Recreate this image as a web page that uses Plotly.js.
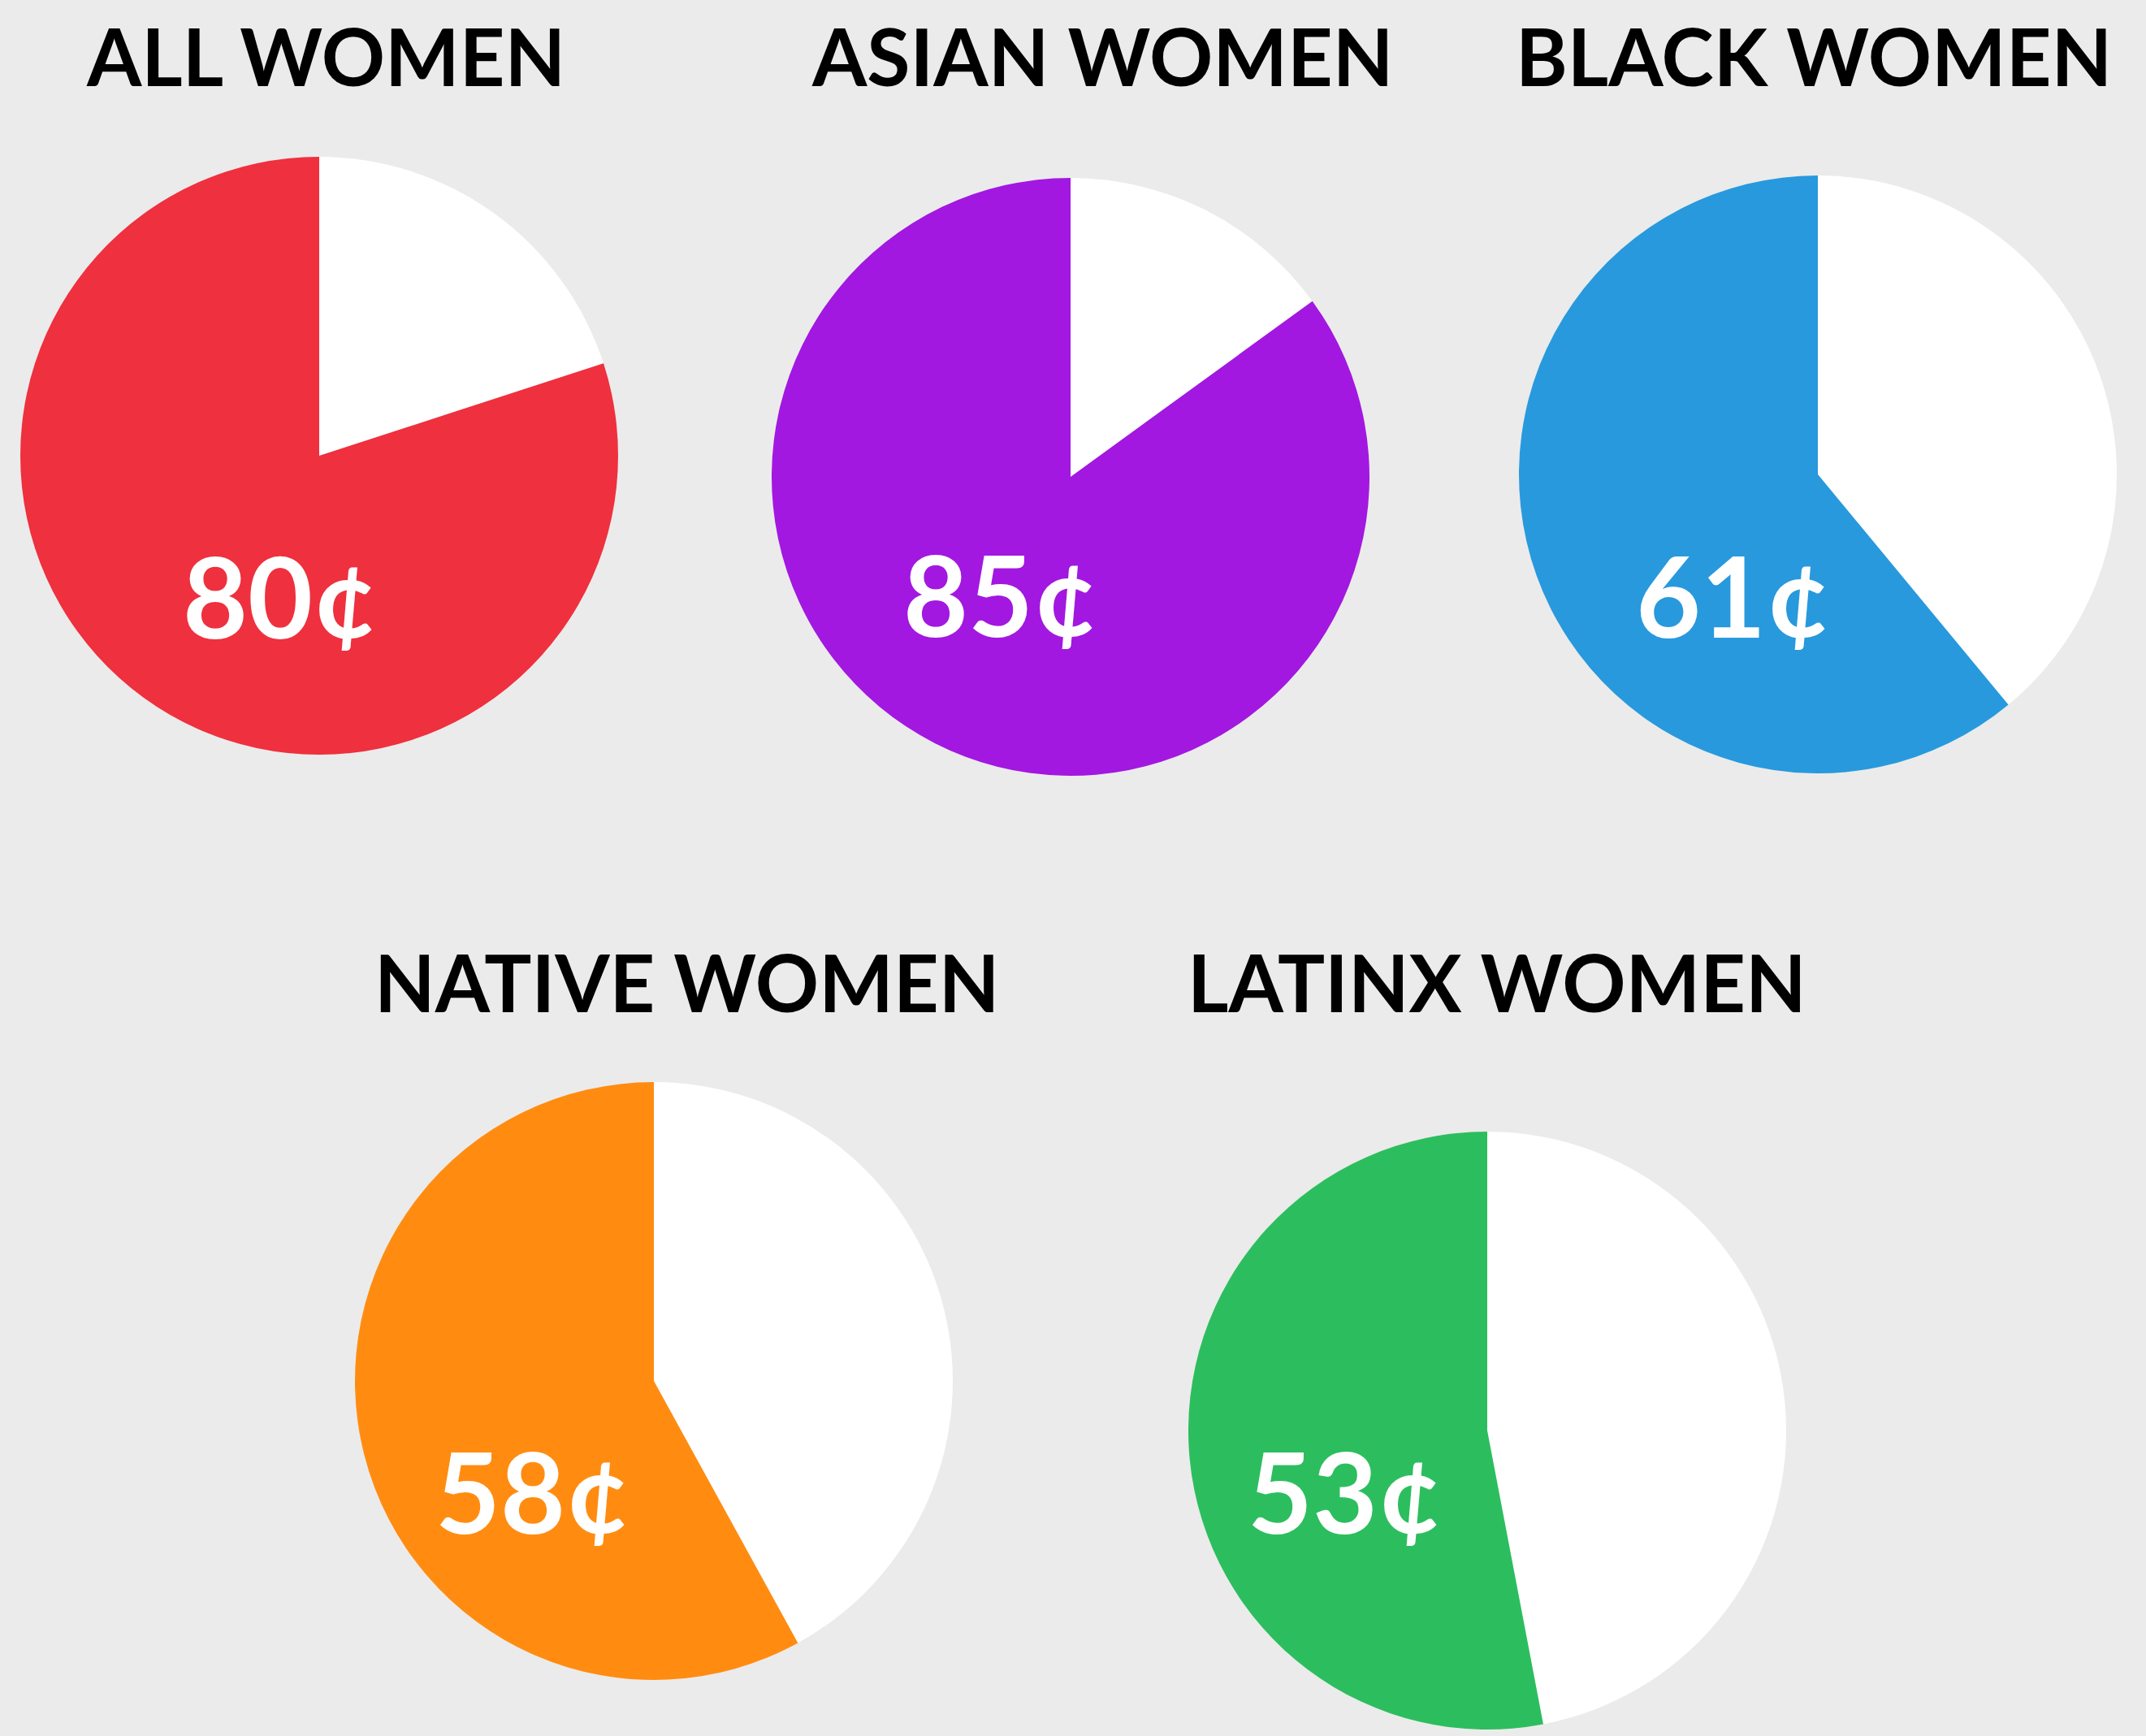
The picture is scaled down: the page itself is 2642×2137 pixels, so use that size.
<!DOCTYPE html>
<html>
<head>
<meta charset="utf-8">
<script src="https://cdn.plot.ly/plotly-3.0.1.min.js"></script>
<style>
  html, body { margin: 0; padding: 0; background: #ebebeb; }
  #chart { width: 2642px; height: 2137px; }
</style>
</head>
<body>
<div id="chart"></div>
<script>
// ---- data ----
const groups = ["ALL WOMEN", "ASIAN WOMEN", "BLACK WOMEN", "NATIVE WOMEN", "LATINX WOMEN"];
const centsPerDollar = [80, 85, 61, 58, 53];
const sliceColors = ["#EF303E", "#A218E0", "#2899DD", "#FF8C11", "#2CBE5E"];

// ---- layout geometry (pixels) ----
const W = 2642, H = 2137, R = 368;
const pieCenters = [[393, 561], [1318, 587], [2238, 584], [805, 1700], [1831, 1761]];
const titlePos = [[401, 68], [1357, 68], [2233, 68], [845, 1208], [1843, 1208]];
const labelPos = [[345, 732], [1232, 730], [2134, 731], [656, 1834], [1656, 1834]];

const traces = groups.map((g, i) => {
  const [cx, cy] = pieCenters[i];
  return {
    type: 'pie',
    values: [100 - centsPerDollar[i], centsPerDollar[i]],
    labels: ['Gap', 'Women'],
    marker: { colors: ['#FFFFFF', sliceColors[i]], line: { width: 0 } },
    sort: false,
    direction: 'clockwise',
    rotation: 0,
    textinfo: 'none',
    hoverinfo: 'skip',
    showlegend: false,
    domain: {
      x: [(cx - R) / W, (cx + R) / W],
      y: [1 - (cy + R) / H, 1 - (cy - R) / H]
    }
  };
});

const annotations = [];
groups.forEach((g, i) => {
  annotations.push({
    text: g, xref: 'paper', yref: 'paper',
    x: titlePos[i][0] / W, y: 1 - titlePos[i][1] / H,
    xanchor: 'center', yanchor: 'middle', showarrow: false,
    font: { family: 'Lato, sans-serif', size: 97, color: '#000', weight: 700 }
  });
});
centsPerDollar.forEach((v, i) => {
  annotations.push({
    text: v + '¢', xref: 'paper', yref: 'paper',
    x: labelPos[i][0] / W, y: 1 - labelPos[i][1] / H,
    xanchor: 'center', yanchor: 'middle', showarrow: false,
    font: { family: 'Lato, sans-serif', size: 138, color: '#FFFFFF', weight: 700 }
  });
});

const layout = {
  width: W, height: H,
  margin: { l: 0, r: 0, t: 0, b: 0 },
  paper_bgcolor: '#ebebeb',
  plot_bgcolor: '#ebebeb',
  annotations: annotations,
  showlegend: false
};

Plotly.newPlot('chart', traces, layout, { staticPlot: true, displayModeBar: false });
</script>
</body>
</html>
